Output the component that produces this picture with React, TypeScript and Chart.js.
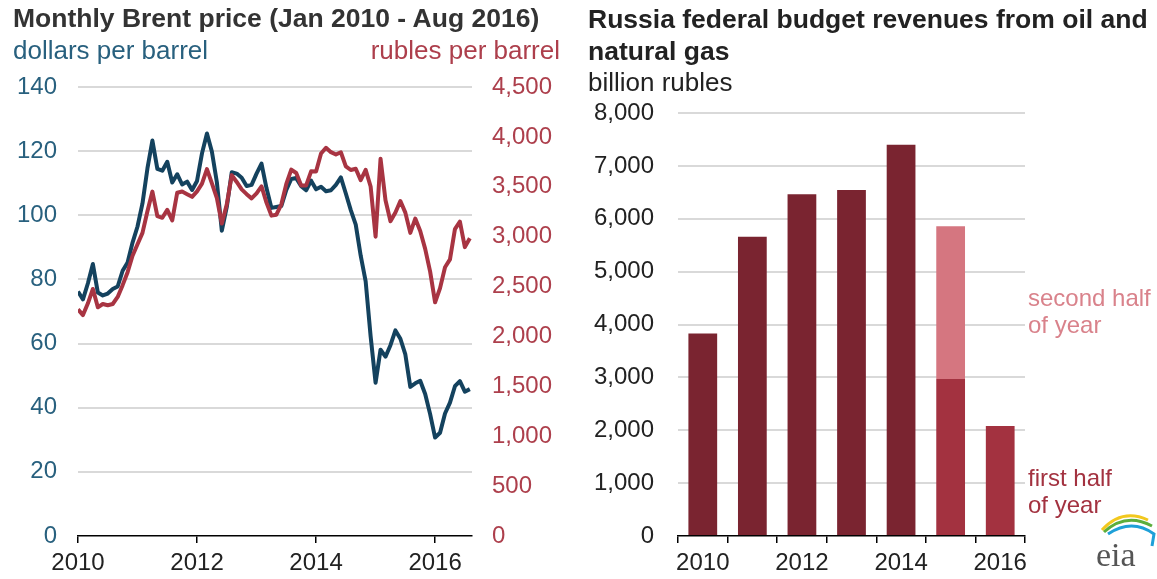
import React, { useEffect, useRef } from 'react';
import { Chart, registerables } from 'chart.js';

Chart.register(...registerables);

// ---------- Data ----------
const startYear = 2010;
// Monthly Brent price, dollars per barrel, Jan 2010 - Aug 2016
const brentDollars = [
  76.2, 73.8, 78.8, 84.8, 75.9, 75.0, 75.6, 77.0, 77.8, 82.7, 85.3, 91.5,
  96.5, 103.7, 114.6, 123.3, 114.5, 113.9, 116.7, 110.2, 112.8, 109.6, 110.5, 107.9,
  110.7, 119.3, 125.5, 119.8, 110.3, 95.2, 102.6, 113.4, 113.0, 111.7, 109.1, 109.5,
  113.0, 116.1, 108.5, 102.3, 102.6, 102.9, 107.9, 111.3, 111.6, 109.1, 107.8, 110.8,
  108.1, 108.9, 107.5, 107.8, 109.5, 111.8, 106.8, 101.6, 97.1, 87.4, 79.4, 62.3,
  47.8, 58.1, 55.9, 59.5, 64.1, 61.5, 56.6, 46.5, 47.6, 48.4, 44.3, 38.0,
  30.7, 32.2, 38.2, 41.6, 46.7, 48.3, 45.0, 45.8,
];
// Monthly Brent price, rubles per barrel
const brentRubles = [
  2271, 2214, 2332, 2476, 2292, 2325, 2313, 2325, 2396, 2514, 2644, 2809,
  2924, 3038, 3255, 3452, 3206, 3189, 3268, 3163, 3440, 3452, 3426, 3399,
  3454, 3531, 3677, 3534, 3386, 3132, 3324, 3617, 3548, 3474, 3426, 3384,
  3434, 3505, 3341, 3211, 3220, 3324, 3529, 3672, 3638, 3512, 3514, 3655,
  3654, 3833, 3891, 3847, 3823, 3846, 3705, 3668, 3680, 3567, 3670, 3503,
  3000, 3780, 3365, 3155, 3242, 3357, 3241, 3038, 3181, 3056, 2878, 2649,
  2342, 2484, 2694, 2773, 3076, 3151, 2895, 2984,
];
const lineTickYears = [2010, 2012, 2014, 2016];
const dollarTicks = [0, 20, 40, 60, 80, 100, 120, 140];
const rubleTicks = [0, 500, 1000, 1500, 2000, 2500, 3000, 3500, 4000, 4500];

// Russia federal budget revenues from oil and natural gas, billion rubles
const budgetYears = ['2010', '2011', '2012', '2013', '2014', '2015', '2016'];
const budgetFullYear = [3830, 5660, 6465, 6545, 7400, null, null];
const budgetFirstHalf = [null, null, null, null, null, 2970, 2080];
const budgetSecondHalf = [null, null, null, null, null, 2890, null];
const budgetTicks = [0, 1000, 2000, 3000, 4000, 5000, 6000, 7000, 8000];

// ---------- Styles ----------
const FONT = '"Liberation Sans", Arial, sans-serif';
const BLUE = '#14425e';
const BLUE_TEXT = '#28607e';
const RED = '#a83442';
const RED_TEXT = '#ad3f4c';
const GRID = '#d9d9d9';
const DARK_BAR = '#7a2430';
const FIRST_BAR = '#a33240';
const SECOND_BAR = '#d57680';
const SECOND_TEXT = '#d9828b';

function BrentChart() {
  const ref = useRef<HTMLCanvasElement>(null);
  useEffect(() => {
    if (!ref.current) return;
    const xs = brentDollars.map((_, i) => startYear + i / 12);
    const chart = new Chart(ref.current, {
      type: 'line',
      data: {
        datasets: [
          {
            label: 'dollars per barrel',
            data: brentDollars.map((v, i) => ({ x: xs[i], y: v })),
            borderColor: BLUE,
            borderWidth: 4,
            pointRadius: 0,
            tension: 0,
            borderJoinStyle: 'round',
            yAxisID: 'y',
            order: 2,
          },
          {
            label: 'rubles per barrel',
            data: brentRubles.map((v, i) => ({ x: xs[i], y: v })),
            borderColor: RED,
            borderWidth: 4,
            pointRadius: 0,
            tension: 0,
            borderJoinStyle: 'round',
            yAxisID: 'y1',
            order: 1,
          },
        ],
      },
      options: {
        responsive: false,
        animation: false,
        layout: { padding: { top: 87, left: 0, right: 0, bottom: 0 } },
        plugins: { legend: { display: false }, tooltip: { enabled: false } },
        scales: {
          x: {
            type: 'linear',
            min: 2010,
            max: 2016.62,
            afterBuildTicks: (s: any) => {
              s.ticks = lineTickYears.map((v) => ({ value: v }));
            },
            afterFit: (s: any) => {
              s.height = 43;
            },
            ticks: {
              callback: (v: any) => String(v),
              color: '#222',
              font: { family: FONT, size: 24 },
              padding: 6,
              maxRotation: 0,
            },
            grid: {
              drawOnChartArea: false,
              drawTicks: true,
              tickLength: 7,
              color: '#000',
              lineWidth: 1.5,
            },
            border: { display: true, color: '#000', width: 1.5 },
          },
          y: {
            position: 'left',
            min: 0,
            max: 140,
            afterBuildTicks: (s: any) => {
              s.ticks = dollarTicks.map((v) => ({ value: v }));
            },
            afterFit: (s: any) => {
              s.width = 78;
            },
            ticks: {
              color: BLUE_TEXT,
              font: { family: FONT, size: 24 },
              padding: 21,
            },
            grid: {
              drawTicks: false,
              lineWidth: 2,
              color: (c: any) => (c.tick && c.tick.value === 0 ? 'rgba(0,0,0,0)' : GRID),
            },
            border: { display: false },
          },
          y1: {
            position: 'right',
            min: 0,
            max: 4500,
            afterBuildTicks: (s: any) => {
              s.ticks = rubleTicks.map((v) => ({ value: v }));
            },
            afterFit: (s: any) => {
              s.width = 108;
            },
            ticks: {
              color: RED_TEXT,
              font: { family: FONT, size: 24 },
              padding: 20,
              callback: (v: any) => Number(v).toLocaleString('en-US'),
            },
            grid: { display: false, drawTicks: false },
            border: { display: false },
          },
        },
      },
    });
    return () => chart.destroy();
  }, []);
  return <canvas ref={ref} width={580} height={579} style={{ position: 'absolute', left: 0, top: 0 }} />;
}

function BudgetChart() {
  const ref = useRef<HTMLCanvasElement>(null);
  useEffect(() => {
    if (!ref.current) return;
    const chart = new Chart(ref.current, {
      type: 'bar',
      data: {
        labels: budgetYears,
        datasets: [
          { label: 'full year', data: budgetFullYear, backgroundColor: DARK_BAR },
          { label: 'first half of year', data: budgetFirstHalf, backgroundColor: FIRST_BAR },
          { label: 'second half of year', data: budgetSecondHalf, backgroundColor: SECOND_BAR },
        ],
      },
      options: {
        responsive: false,
        animation: false,
        layout: { padding: { top: 113, left: 0, right: 132, bottom: 0 } },
        plugins: { legend: { display: false }, tooltip: { enabled: false } },
        datasets: { bar: { barPercentage: 0.58, categoryPercentage: 1, borderWidth: 0 } },
        scales: {
          x: {
            type: 'category',
            stacked: true,
            offset: true,
            afterFit: (s: any) => {
              s.height = 43;
            },
            ticks: {
              autoSkip: false,
              maxRotation: 0,
              color: '#222',
              font: { family: FONT, size: 24 },
              padding: 6,
              callback: (_v: any, i: number) => (i % 2 === 0 ? budgetYears[i] : ''),
            },
            grid: {
              offset: true,
              drawOnChartArea: false,
              drawTicks: true,
              tickLength: 7,
              color: '#000',
              lineWidth: 1.5,
            },
            border: { display: true, color: '#000', width: 1.5 },
          },
          y: {
            stacked: true,
            min: 0,
            max: 8000,
            afterBuildTicks: (s: any) => {
              s.ticks = budgetTicks.map((v) => ({ value: v }));
            },
            afterFit: (s: any) => {
              s.width = 98;
            },
            ticks: {
              color: '#222',
              font: { family: FONT, size: 24 },
              padding: 24,
              callback: (v: any) => Number(v).toLocaleString('en-US'),
            },
            grid: {
              drawTicks: false,
              lineWidth: 2,
              color: (c: any) => (c.tick && c.tick.value === 0 ? 'rgba(0,0,0,0)' : GRID),
            },
            border: { display: false },
          },
        },
      },
    });
    return () => chart.destroy();
  }, []);
  return <canvas ref={ref} width={577} height={579} style={{ position: 'absolute', left: 580, top: 0 }} />;
}

const txt = (extra: React.CSSProperties): React.CSSProperties => ({
  position: 'absolute',
  fontFamily: FONT,
  whiteSpace: 'nowrap',
  ...extra,
});

function EiaLogo() {
  return (
    <svg width="64" height="76" viewBox="0 0 64 76" style={{ position: 'absolute', left: 1092, top: 500 }}>
      <path d="M10 30 Q30 8 56 20" stroke="#f2c81e" strokeWidth="3" fill="none" />
      <path d="M12 32 Q34 12 60 26" stroke="#5cae3c" strokeWidth="3" fill="none" />
      <path d="M16 34 Q40 18 62 34 L60 46" stroke="#1ea0d8" strokeWidth="3" fill="none" />
      <text x="4" y="66" fontFamily="'Liberation Serif', 'DejaVu Serif', serif" fontSize="34" fill="#555">eia</text>
    </svg>
  );
}

export default function App() {
  return (
    <div style={{ position: 'fixed', left: 0, top: 0, width: 1157, height: 579, background: '#fff', overflow: 'hidden' }}>
      <BrentChart />
      <BudgetChart />
      <div style={txt({ left: 13, top: 3, fontSize: 26.5, lineHeight: '30px', fontWeight: 'bold', color: '#333' })}>
        Monthly Brent price (Jan 2010 - Aug 2016)
      </div>
      <div style={txt({ left: 13, top: 35, fontSize: 26, lineHeight: '30px', color: BLUE_TEXT })}>dollars per barrel</div>
      <div style={txt({ left: 0, width: 560, textAlign: 'right', top: 35, fontSize: 26, lineHeight: '30px', color: RED_TEXT })}>
        rubles per barrel
      </div>
      <div style={txt({ left: 588, top: 3, fontSize: 26.5, lineHeight: '32px', fontWeight: 'bold', color: '#222' })}>
        Russia federal budget revenues from oil and
        <br />
        natural gas
      </div>
      <div style={txt({ left: 588, top: 67, fontSize: 26, lineHeight: '30px', color: '#222' })}>billion rubles</div>
      <div style={txt({ left: 1028, top: 284, fontSize: 24, lineHeight: '27px', color: SECOND_TEXT })}>
        second half
        <br />
        of year
      </div>
      <div style={txt({ left: 1028, top: 464, fontSize: 24, lineHeight: '27px', color: FIRST_BAR })}>
        first half
        <br />
        of year
      </div>
      <EiaLogo />
    </div>
  );
}
